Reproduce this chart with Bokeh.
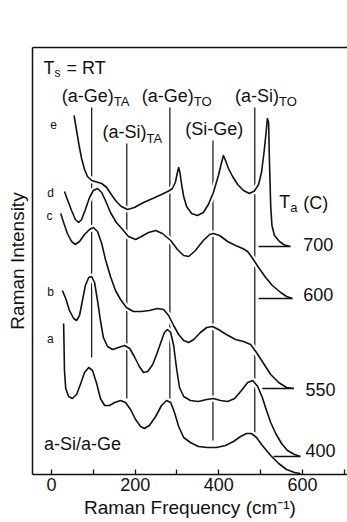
from bokeh.plotting import figure
from bokeh.models import Range1d, FixedTicker, LinearAxis, Title
from bokeh.core.properties import value
from bokeh.embed import file_html
from bokeh.resources import INLINE

# ---- data: Raman shift (cm^-1) and offset intensity (arb. units) ----
# e : annealed 700 C
e_x = [54, 60, 66, 72, 79, 86, 96, 108, 120, 132, 143, 155, 167, 182, 198, 220, 242, 263, 280, 289,
       296, 301, 304, 307, 311, 316, 323, 335, 349, 363, 375, 387, 399, 406, 411, 416, 423, 433,
       445, 459, 473, 485, 495, 502, 508, 513, 516, 519, 521, 524, 527, 533, 545, 557, 571]
e_y = [358.5, 343.5, 328.5, 315.5, 304.5, 297.5, 293.5, 292, 290.5, 286.5, 279.5, 272.5, 267.5,
       264.5, 266.5, 271.5, 275.5, 279.5, 283, 285.5, 291.5, 301.5, 306.5, 301.5, 289.5, 277.5,
       267.5, 260.5, 258.5, 261.5, 269.5, 281.5, 298.5, 310.5, 318.5, 313.5, 305.5, 297.5, 289.5,
       283.5, 280.5, 283, 289.5, 301.5, 321.5, 341.5, 355.5, 351.5, 313.5, 268.5, 248.5, 238.5,
       232.5, 229, 227.5]
# d : annealed 600 C
d_x = [31, 38, 48, 57, 65, 72, 81, 91, 100, 110, 120, 129, 141, 155, 170, 184, 201, 215, 232, 249,
       265, 285, 301, 316, 328, 344, 363, 378, 387, 402, 421, 440, 457, 469, 481, 495, 512, 528,
       548, 562, 576]
d_y = [282.5, 274.5, 263.5, 254.5, 251.5, 254.5, 264.5, 276.5, 283.5, 285.5, 281.5, 273.5, 261.5,
       251.5, 244.5, 237.5, 234.5, 237.5, 241.5, 243.5, 240.5, 233.5, 224.5, 218.5, 217.5, 223.5,
       233.5, 239.5, 240.5, 238.5, 232.5, 228.5, 225.5, 222.5, 215.5, 206.5, 196.5, 188.5, 181.5,
       177.5, 175.5]
# c : annealed 550 C
c_x = [22, 29, 38, 48, 57, 67, 79, 91, 100, 110, 120, 129, 141, 153, 165, 179, 196, 215, 234, 253,
       268, 280, 292, 304, 316, 328, 340, 356, 371, 385, 399, 418, 440, 459, 476, 490, 507, 524,
       543, 562, 579]
c_y = [260.5, 251.5, 240.5, 232.5, 229.5, 232.5, 239.5, 244.5, 246.5, 242.5, 230.5, 214.5, 197.5,
       183.5, 174.5, 166.5, 162.5, 162.5, 163.5, 165.5, 164.5, 158.5, 148.5, 139.5, 133.5, 131.5,
       134.5, 141.5, 146.5, 147.5, 144.5, 139.5, 134.5, 132.5, 129.5, 121.5, 110.5, 99.5, 91.5,
       86.5, 85.5]
# b : annealed 400 C
b_x = [26, 34, 43, 53, 60, 67, 74, 81, 89, 96, 103, 110, 117, 124, 134, 146, 160, 175, 187, 198,
       210, 220, 230, 242, 253, 263, 270, 277, 285, 292, 299, 306, 316, 332, 351, 371, 387, 404,
       421, 438, 454, 469, 481, 493, 504, 514, 524, 536, 550, 564, 581, 595]
b_y = [183.5, 175.5, 163.5, 155.5, 153.5, 158.5, 173.5, 188.5, 196.5, 197.5, 191.5, 173.5, 153.5,
       136.5, 127.5, 124.5, 126.5, 128.5, 125.5, 117.5, 107.5, 101.5, 102.5, 109.5, 121.5, 133.5,
       141.5, 144.5, 141.5, 128.5, 105.5, 86.5, 77.5, 73.5, 72.5, 74.5, 75.5, 73.5, 72.5, 75.5,
       83.5, 91.5, 93.5, 87.5, 76.5, 63.5, 51.5, 40.5, 30.5, 23.5, 19.5, 17.5]
# a : as-deposited a-Si/a-Ge
a_x = [29, 30, 31, 34, 41, 50, 60, 69, 79, 89, 98, 108, 117, 127, 139, 151, 165, 177, 189, 201,
       213, 222, 234, 249, 263, 275, 285, 294, 304, 316, 332, 351, 373, 394, 416, 435, 452, 466,
       478, 490, 504, 524, 543, 562, 581, 595]
a_y = [150.5, 128.5, 103.5, 85.5, 77.5, 75.5, 79.5, 89.5, 101.5, 106.5, 103.5, 90.5, 75.5, 68.5,
       68.5, 71.5, 73.5, 71.5, 64.5, 54.5, 47.5, 45.5, 48.5, 57.5, 68.5, 73.5, 71.5, 61.5, 47.5,
       36.5, 31.5, 27.5, 26.5, 26.5, 28.5, 32.5, 37.5, 40.5, 40.5, 36.5, 28.5, 18.5, 10.5, 4.5,
       1.5, 0.5]

# phonon marker lines: position (cm^-1), top and bottom (arb. units)
marker_x = [96, 180, 283, 386, 486]
marker_top = [366.5, 330.5, 366.5, 333.5, 366.5]
marker_bottom = [116.5, 75.5, 75.5, 33.5, 41.5]

# annealing temperatures, with the start of each baseline stub
temps = ["700", "600", "550", "400"]
stub_start = [495, 495, 504, 531]
temp_label_x = [602, 602, 607, 607]
temp_label_y = [229.5, 179.5, 85, 23.5]

# curve letters
letters = ["e", "d", "c", "b", "a"]
letter_x = [5, -2, -5, -2, -3]
letter_y = [349.5, 281, 258.5, 182.5, 135]

# phonon mode labels (name + subscript)
mode_names = ["(a-Ge)", "(a-Ge)", "(a-Si)", "(a-Si)"]
mode_subs = ["TA", "TO", "TO", "TA"]
mode_x = [149, 340, 544, 227]
mode_name_y = [378, 378, 378.5, 342]
mode_sub_y = [373, 373, 373, 336]

x_major = [0, 200, 400, 600]
x_minor = [100, 300, 500, 700]

INK = "#111111"
FONT = "Liberation Sans"

p = figure(width=347, height=522, output_backend="svg", toolbar_location=None,
           x_range=Range1d(-45.4, 707.6), y_range=Range1d(-0.5, 426.5),
           min_border_left=32, min_border_right=0, min_border_top=47, min_border_bottom=48)
p.grid.visible = False
p.outline_line_color = None
p.background_fill_color = "white"
p.border_fill_color = "white"

# x axis
xa = p.xaxis[0]
xa.ticker = FixedTicker(ticks=x_major, minor_ticks=x_minor)
xa.major_tick_in = 5
xa.major_tick_out = 0
xa.minor_tick_in = 5
xa.minor_tick_out = 0
xa.axis_line_width = 1.5
xa.axis_line_color = INK
xa.major_tick_line_color = INK
xa.minor_tick_line_color = INK
xa.major_tick_line_width = 1.3
xa.minor_tick_line_width = 1.3
xa.major_label_text_font = FONT
xa.major_label_text_font_size = "18px"
xa.major_label_text_color = INK
xa.major_label_standoff = 3

# y axis: line only
ya = p.yaxis[0]
ya.ticker = FixedTicker(ticks=[])
ya.major_tick_in = 0
ya.major_tick_out = 0
ya.minor_tick_in = 0
ya.minor_tick_out = 0
ya.major_label_text_font_size = "0px"
ya.major_label_standoff = 0
ya.axis_line_width = 1.5
ya.axis_line_color = INK

# top frame line
ta = LinearAxis(ticker=FixedTicker(ticks=[]), major_label_text_font_size="0px",
                major_tick_in=0, major_tick_out=0, minor_tick_in=0, minor_tick_out=0,
                major_label_standoff=0, axis_line_width=1.3, axis_line_color=INK)
p.add_layout(ta, "above")

# axis titles
p.add_layout(Title(text="Raman Frequency (cm\u207b\u00b9)", align="center", offset=6,
                   standoff=2, text_font=FONT, text_font_size="19px",
                   text_font_style="normal", text_color=INK), "below")
p.add_layout(Title(text="Raman Intensity", align="center", offset=19,
                   standoff=9, text_font=FONT, text_font_size="19px",
                   text_font_style="normal", text_color=INK), "left")

# marker lines
p.segment(x0=marker_x, y0=marker_bottom, x1=marker_x, y1=marker_top,
          line_color=INK, line_width=1.2)

# spectra with white halo (breaks the marker lines where they cross)
for xs, ys in [(a_x, a_y), (b_x, b_y), (c_x, c_y), (d_x, d_y), (e_x, e_y)]:
    p.line(xs, ys, line_color="white", line_width=6, line_join="round")
    p.line(xs, ys, line_color=INK, line_width=1.6, line_join="round")

# baseline stubs at each temperature curve end
ends = [(e_x, e_y), (d_x, d_y), (c_x, c_y), (b_x, b_y)]
stub_end = [xs[-1] for xs, ys in ends]
stub_y = [ys[-1] for xs, ys in ends]
p.segment(x0=stub_start, y0=stub_y, x1=stub_end, y1=stub_y, line_color=INK, line_width=1.3)

def txt(x, y, t, size, align="left"):
    p.text(x=x, y=y, text=t, text_font=value(FONT), text_font_size=value(size),
           text_color=INK, text_align=align, text_baseline="middle")

# mode labels
txt(mode_x, mode_name_y, mode_names, "18px", "right")
txt(mode_x, mode_sub_y, mode_subs, "13px", "left")
txt([320], [345], ["(Si-Ge)"], "18px")

# Ts = RT
txt([7], [406.5], ["T"], "18px", "right")
txt([7], [401], ["s"], "12px", "left")
txt([36], [406.5], ["= RT"], "18px", "left")

# Ta (C)
txt([571], [272], ["T"], "18px", "right")
txt([571], [266.5], ["a"], "13px", "left")
txt([602], [271.5], ["(C)"], "18px", "left")

# temperatures
txt(temp_label_x, temp_label_y, temps, "18px", "left")

# sample label
txt([-18], [30], ["a-Si/a-Ge"], "18px", "left")

# curve letters
txt(letter_x, letter_y, letters, "12px", "center")

open("out.html", "w").write(file_html(p, INLINE))
